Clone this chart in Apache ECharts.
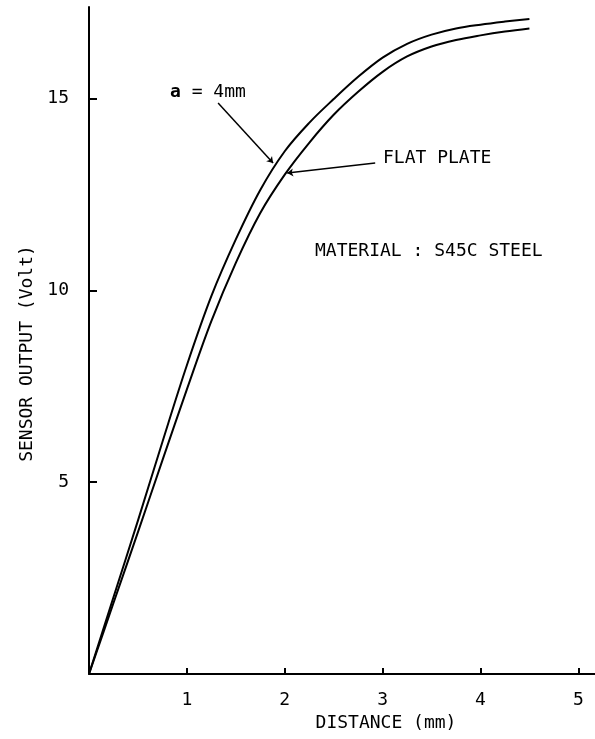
<!DOCTYPE html>
<html>
<head>
<meta charset="utf-8">
<script src="https://cdn.jsdelivr.net/npm/echarts@6/dist/echarts.min.js"></script>
<style>
  html, body { margin: 0; padding: 0; background: #ffffff; }
  #chart { width: 595px; height: 739px; }
</style>
</head>
<body>
<div id="chart"></div>
<script>
// Distance (mm)
const distance = [0, 0.25, 0.5, 0.75, 1.0, 1.25, 1.5, 1.75, 2.0, 2.25, 2.5, 2.75, 3.0, 3.25, 3.5, 3.75, 4.0, 4.25, 4.5];
// Sensor output (Volt), a = 4mm
const outputA4 = [0, 2.0, 4.0, 6.05, 8.05, 9.85, 11.33, 12.62, 13.63, 14.37, 14.99, 15.57, 16.07, 16.43, 16.67, 16.83, 16.93, 17.01, 17.08];
// Sensor output (Volt), flat plate
const outputFlat = [0, 1.85, 3.7, 5.57, 7.42, 9.2, 10.72, 12.02, 13.02, 13.85, 14.58, 15.18, 15.7, 16.1, 16.36, 16.53, 16.65, 16.75, 16.83];
// Tick labels
const xTicks = [1, 2, 3, 4, 5];
const yTicks = [5, 10, 15];

const FONT = "'DejaVu Sans Mono', monospace";

const chart = echarts.init(document.getElementById('chart'), null, { renderer: 'canvas' });

const pairs = (xs, ys) => xs.map((x, i) => [x, ys[i]]);

chart.setOption({
  backgroundColor: '#ffffff',
  animation: false,
  grid: { left: 89, right: 0, top: 7, bottom: 65, containLabel: false },
  xAxis: {
    type: 'value',
    min: 0,
    max: 5.17,
    name: 'DISTANCE (mm)',
    nameLocation: 'middle',
    nameGap: 35,
    nameTextStyle: { fontFamily: FONT, fontSize: 18, color: '#000', padding: [0, 0, 0, 88] },
    axisLine: { show: true, lineStyle: { color: '#000', width: 2 } },
    axisTick: { show: true, inside: true, length: 6, customValues: xTicks, lineStyle: { color: '#000', width: 2 } },
    axisLabel: { customValues: xTicks, margin: 17, fontFamily: FONT, fontSize: 18, color: '#000' },
    splitLine: { show: false }
  },
  yAxis: {
    type: 'value',
    min: 0,
    max: 17.39,
    name: 'SENSOR OUTPUT (Volt)',
    nameLocation: 'middle',
    nameGap: 52,
    nameTextStyle: { fontFamily: FONT, fontSize: 18, color: '#000', padding: [0, 26, 0, 0] },
    axisLine: { show: true, lineStyle: { color: '#000', width: 2 } },
    axisTick: { show: true, inside: true, length: 8, customValues: yTicks, lineStyle: { color: '#000', width: 2 } },
    axisLabel: { customValues: yTicks, margin: 20, fontFamily: FONT, fontSize: 18, color: '#000' },
    splitLine: { show: false }
  },
  series: [
    {
      name: 'a = 4mm',
      type: 'line',
      data: pairs(distance, outputA4),
      smooth: 0.35,
      showSymbol: false,
      lineStyle: { color: '#000', width: 2 },
      markLine: {
        silent: true,
        symbol: ['none', 'arrow'],
        symbolSize: 6,
        label: { show: false },
        lineStyle: { color: '#000', width: 1.5, type: 'solid' },
        data: [[{ coord: [1.319, 14.89] }, { coord: [1.881, 13.32] }]]
      }
    },
    {
      name: 'FLAT PLATE',
      type: 'line',
      data: pairs(distance, outputFlat),
      smooth: 0.35,
      showSymbol: false,
      lineStyle: { color: '#000', width: 2 },
      markLine: {
        silent: true,
        symbol: ['none', 'arrow'],
        symbolSize: 6,
        label: { show: false },
        lineStyle: { color: '#000', width: 1.5, type: 'solid' },
        data: [[{ coord: [2.924, 13.32] }, { coord: [2.025, 13.06] }]]
      }
    }
  ],
  graphic: [
    {
      type: 'text', left: 170, top: 83,
      style: {
        text: '{b|a} = 4mm',
        fontFamily: FONT, fontSize: 18, fill: '#000',
        rich: { b: { fontFamily: FONT, fontSize: 18, fontWeight: 'bold', fill: '#000' } }
      }
    },
    {
      type: 'text', left: 383, top: 149,
      style: { text: 'FLAT PLATE', fontFamily: FONT, fontSize: 18, fill: '#000' }
    },
    {
      type: 'text', left: 315, top: 242,
      style: { text: 'MATERIAL : S45C STEEL', fontFamily: FONT, fontSize: 18, fill: '#000' }
    }
  ]
});
</script>
</body>
</html>
